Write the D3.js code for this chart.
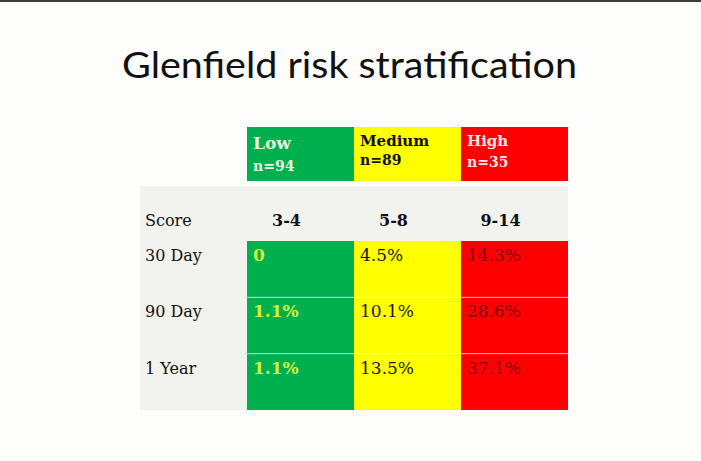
<!DOCTYPE html>
<head>
  <meta charset="utf-8">
  <style>
    body { margin: 0; background: #fdfdfb; }
    svg text { font-family: "DejaVu Serif", serif; }
    svg .title { font-family: Lato, "Open Sans", sans-serif; }
  </style>
</head>
<body>
<script src="https://d3js.org/d3.v7.min.js"></script>
<script>
  // table content
  var groups  = ["Low", "Medium", "High"];
  var counts  = [94, 89, 35];
  var scores  = ["3-4", "5-8", "9-14"];
  var periods = ["30 Day", "90 Day", "1 Year"];
  var lowRisk    = [0, 1.1, 1.1];      // % mortality
  var mediumRisk = [4.5, 10.1, 13.5];
  var highRisk   = [14.3, 28.6, 37.1];

  var W = 701, H = 461;
  var fill   = { Low: "#00b04f", Medium: "#ffff00", High: "#ff0000" };
  var head   = { Low: "#e9f7dc", Medium: "#111", High: "#ffe6e6" };
  var ink    = { Low: "#d2f03c", Medium: "#1a1a1a", High: "#8a0000" };

  var svg = d3.select("body").append("svg")
      .attr("width", W)
      .attr("height", H);

  svg.append("rect").attr("width", W).attr("height", H).attr("fill", "#fdfdfb");
  svg.append("rect").attr("width", W).attr("height", 2).attr("fill", "#3a3a3a");

  svg.append("text")
      .classed("title", true)
      .attr("x", 122)
      .attr("y", 78)
      .attr("textLength", 455)
      .attr("lengthAdjust", "spacingAndGlyphs")
      .style("font-size", "36px")
      .style("fill", "#111")
      .text("Glenfield risk stratification");

  // columns: label column + one per group
  var x = d3.scaleBand().domain(["label"].concat(groups)).range([140, 568]);
  // body rows
  var y = d3.scaleBand().domain(periods).range([241, 410]);

  var headTop = 127, headBot = 181, scoreTop = 186;

  // grey background for score row and label column
  svg.append("rect")
      .attr("x", x("label")).attr("y", scoreTop)
      .attr("width", x.range()[1] - x.range()[0]).attr("height", y.range()[0] - scoreTop)
      .attr("fill", "#f2f2ee");
  svg.append("rect")
      .attr("x", x("label")).attr("y", scoreTop)
      .attr("width", x.bandwidth()).attr("height", y.range()[1] - scoreTop)
      .attr("fill", "#f2f2ee");

  // header cells
  var hg = svg.selectAll("g.head").data(groups).enter().append("g").classed("head", true);
  hg.append("rect")
      .attr("x", function (d) { return x(d); })
      .attr("y", headTop)
      .attr("width", x.bandwidth())
      .attr("height", headBot - headTop)
      .attr("fill", function (d) { return fill[d]; });
  hg.append("text")
      .attr("x", function (d) { return x(d) + 6; })
      .attr("y", function (d) { return d === "Low" ? 149 : 146; })
      .style("font-size", function (d) { return d === "Low" ? "17px" : "15px"; })
      .style("font-weight", "bold")
      .style("fill", function (d) { return head[d]; })
      .text(function (d) { return d; });
  hg.append("text")
      .attr("x", function (d) { return x(d) + 6; })
      .attr("y", function (d, i) { return [171, 165, 167][i]; })
      .style("font-size", "14px")
      .style("font-weight", "bold")
      .style("fill", function (d) { return head[d]; })
      .text(function (d, i) { return "n=" + counts[i]; });

  // score row
  svg.append("text")
      .attr("x", x("label") + 5).attr("y", 226)
      .style("font-size", "16px").style("fill", "#111")
      .text("Score");
  svg.selectAll("text.score").data(scores).enter().append("text")
      .classed("score", true)
      .attr("x", function (d, i) { return x(groups[i]) + x.bandwidth() / 2 - 14; })
      .attr("y", 226)
      .attr("text-anchor", "middle")
      .style("font-size", "16px")
      .style("font-weight", "bold")
      .style("fill", "#111")
      .text(function (d) { return d; });

  // body cells
  var cols = [lowRisk, mediumRisk, highRisk];
  var cells = [];
  groups.forEach(function (g, i) {
    periods.forEach(function (p, j) {
      cells.push({ group: g, period: p, value: cols[i][j] });
    });
  });

  svg.selectAll("rect.cell").data(cells).enter().append("rect")
      .classed("cell", true)
      .attr("x", function (d) { return x(d.group); })
      .attr("y", function (d) { return y(d.period); })
      .attr("width", x.bandwidth())
      .attr("height", y.bandwidth())
      .attr("fill", function (d) { return fill[d.group]; });

  // thin row separators
  svg.selectAll("line.sep").data(periods.slice(1)).enter().append("line")
      .classed("sep", true)
      .attr("x1", x("Low")).attr("x2", x.range()[1])
      .attr("y1", function (d) { return y(d); })
      .attr("y2", function (d) { return y(d); })
      .style("stroke", "#fff")
      .style("stroke-opacity", 0.6)
      .style("stroke-width", "1px");

  svg.selectAll("text.cell").data(cells).enter().append("text")
      .classed("cell", true)
      .attr("x", function (d) { return x(d.group) + 6; })
      .attr("y", function (d) { return y(d.period) + 20; })
      .style("font-size", "17px")
      .style("font-weight", function (d) { return d.group === "Low" ? "bold" : "normal"; })
      .style("fill", function (d) { return ink[d.group]; })
      .text(function (d) { return d.value === 0 ? "0" : d.value + "%"; });

  // row labels
  svg.selectAll("text.period").data(periods).enter().append("text")
      .classed("period", true)
      .attr("x", x("label") + 5)
      .attr("y", function (d) { return y(d) + 20; })
      .style("font-size", "16px")
      .style("font-weight", "normal")
      .style("fill", "#111")
      .text(function (d) { return d; });
</script>
</body>
</html>
